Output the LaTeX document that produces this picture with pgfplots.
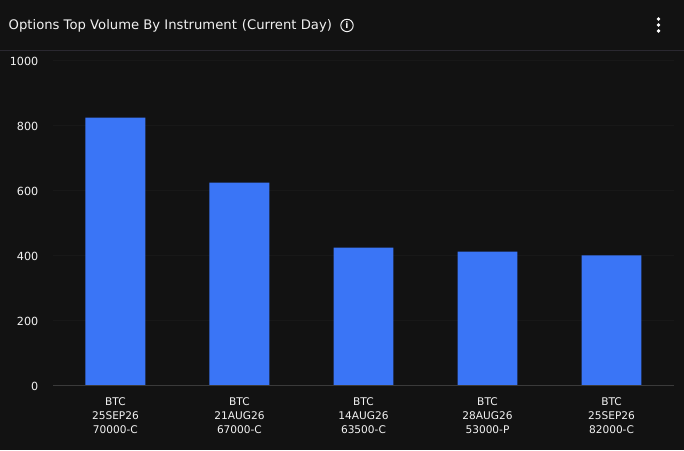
\documentclass[border=0pt]{standalone}
\usepackage{pgfplots}
\pgfplotsset{compat=1.18}
\usepackage{fontspec}
\setmainfont{DejaVu Sans}
\definecolor{bg}{HTML}{121212}
\definecolor{barblue}{HTML}{3A75F6}
\definecolor{gridc}{HTML}{181818}
\definecolor{basec}{HTML}{3A3A3A}
\definecolor{sepc}{HTML}{2A2830}
\definecolor{txt}{HTML}{F2F2F2}
\begin{document}
\begin{tikzpicture}[x=1bp,y=1bp]
\fill[bg] (0,0) rectangle (684,451);
\draw[sepc,line width=1bp] (0,400.5) -- (684,400.5);
\node[anchor=west,text=txt,inner sep=0pt,font=\fontsize{13.2bp}{15bp}\selectfont] at (8,425.5) {Options Top Volume By Instrument\hspace{5bp}(Current Day)};
\draw[txt,line width=1bp] (347,425.5) circle (6.2bp);
\node[text=txt,inner sep=0pt,font=\bfseries\fontsize{9bp}{9bp}\selectfont] at (347,425.5) {i};
\fill[white] (659,432) circle (1.9bp);
\fill[white] (659,426) circle (1.9bp);
\fill[white] (659,420) circle (1.9bp);
\begin{axis}[
  at={(53bp,65bp)},anchor=south west,
  scale only axis,width=621bp,height=325bp,
  xmin=-0.5,xmax=4.5,ymin=0,ymax=1000,
  axis line style={draw=none},
  axis x line*=bottom,axis y line*=left,
  ytick={0,200,400,600,800,1000},
  xtick=data,
  xticklabels={{BTC\\25SEP26\\70000-C},{BTC\\21AUG26\\67000-C},{BTC\\14AUG26\\63500-C},{BTC\\28AUG26\\53000-P},{BTC\\25SEP26\\82000-C}},
  x tick label style={align=center,text=txt,font=\fontsize{10.6bp}{14bp}\selectfont,inner sep=0pt,yshift=-12bp},
  y tick label style={text=txt,font=\fontsize{11.2bp}{13bp}\selectfont,inner sep=0pt,xshift=-15bp,yshift=-1bp},
  /pgf/number format/assume math mode=true,
  /pgf/number format/set thousands separator={},
  major tick length=0pt,
  ymajorgrids,grid style={gridc,line width=0.8bp},
  ybar,bar width=60bp,
  clip=false,
]
\addplot[fill=barblue,draw=none] coordinates {(0,825) (1,625) (2,425) (3,412) (4,401)};
\end{axis}
\draw[basec,line width=1bp] (53,65) -- (674,65);
\path[use as bounding box] (0,0) rectangle (684,451);
\end{tikzpicture}
\end{document}
